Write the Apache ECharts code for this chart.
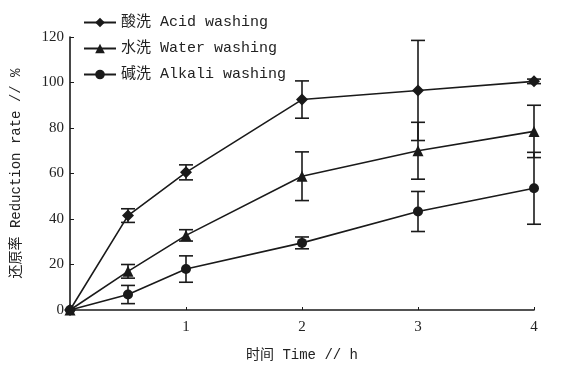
<!DOCTYPE html>
<html><head><meta charset="utf-8">
<script src="https://cdn.jsdelivr.net/npm/echarts@6/dist/echarts.min.js"></script>
<style>html,body{margin:0;padding:0;background:#fff}#c{width:579px;height:368px}</style>
</head><body><div id="c"></div>
<script>
var times = [0, 0.5, 1, 2, 3, 4];
var acid = [0, 41.5, 60.5, 92.5, 96.5, 100.5];
var acidErr = [0, 3, 3.3, 8.2, 22, 1];
var water = [0, 17, 32.8, 58.8, 70, 78.5];
var waterErr = [0, 3, 2.5, 10.7, 12.5, 11.5];
var alkali = [0, 6.8, 18, 29.5, 43.3, 53.5];
var alkaliErr = [0, 4, 5.8, 2.6, 8.8, 15.8];
var names = ['酸洗 Acid washing', '水洗 Water washing', '碱洗 Alkali washing'];
var xTicks = [1, 2, 3, 4];

var C = '#1a1a1a';
var serif = '"Liberation Serif", "Noto Sans CJK SC", serif';
var mono = '"Liberation Mono", "Noto Sans CJK SC", monospace';

function pts(v){ return times.map(function(t,i){ return [t, v[i]]; }); }
function errs(v,e){ return times.map(function(t,i){ return [t, v[i]-e[i], v[i]+e[i]]; }).filter(function(d){return d[2]-d[1]>0;}); }

function errSeries(v,e){
  return {
    type:'custom', silent:true, z:1,
    data: errs(v,e),
    encode:{x:0,y:[1,2]},
    renderItem:function(params, api){
      var lo = api.coord([api.value(0), api.value(1)]);
      var hi = api.coord([api.value(0), api.value(2)]);
      var w = 7;
      var st = {stroke:C, lineWidth:1.6};
      return {type:'group', children:[
        {type:'line', shape:{x1:lo[0],y1:lo[1],x2:hi[0],y2:hi[1]}, style:st},
        {type:'line', shape:{x1:lo[0]-w,y1:lo[1],x2:lo[0]+w,y2:lo[1]}, style:st},
        {type:'line', shape:{x1:hi[0]-w,y1:hi[1],x2:hi[0]+w,y2:hi[1]}, style:st}
      ]};
    }
  };
}
function lineSeries(name, v, sym, size){
  return {
    name:name, type:'line', data:pts(v), symbol:sym, symbolSize:size, z:3,
    lineStyle:{color:C, width:1.6}, itemStyle:{color:C}
  };
}

var chart = echarts.init(document.getElementById('c'));
chart.setOption({
  animation:false,
  backgroundColor:'#fff',
  grid:{left:70, right:45, top:37, bottom:58},
  legend:{
    orient:'vertical', left:78, top:10, itemGap:11, itemWidth:32, itemHeight:12,
    textStyle:{fontFamily:mono, fontSize:15, color:'#222'},
    data:names
  },
  xAxis:{
    type:'value', min:0, max:4, interval:1,
    name:'时间 Time // h', nameLocation:'middle', nameGap:38,
    nameTextStyle:{fontFamily:mono, fontSize:14, color:'#222'},
    axisLine:{lineStyle:{color:C, width:1.6}},
    axisTick:{inside:true, length:3, lineStyle:{color:C}},
    splitLine:{show:false},
    axisLabel:{fontFamily:serif, fontSize:15, color:'#222', margin:10,
      formatter:function(v){ return xTicks.indexOf(v)>=0 ? String(v) : ''; }}
  },
  yAxis:{
    type:'value', min:0, max:120, interval:20,
    name:'还原率 Reduction rate // %', nameLocation:'middle', nameGap:47,
    nameTextStyle:{fontFamily:mono, fontSize:14, color:'#222'},
    axisLine:{show:true, lineStyle:{color:C, width:1.6}},
    axisTick:{show:true, inside:true, length:4, lineStyle:{color:C}},
    splitLine:{show:false},
    axisLabel:{fontFamily:serif, fontSize:15, color:'#222', margin:6}
  },
  series:[
    lineSeries(names[0], acid, 'diamond', 12),
    lineSeries(names[1], water, 'triangle', 11),
    lineSeries(names[2], alkali, 'circle', 10),
    errSeries(acid, acidErr),
    errSeries(water, waterErr),
    errSeries(alkali, alkaliErr)
  ]
});
</script>
</body></html>
